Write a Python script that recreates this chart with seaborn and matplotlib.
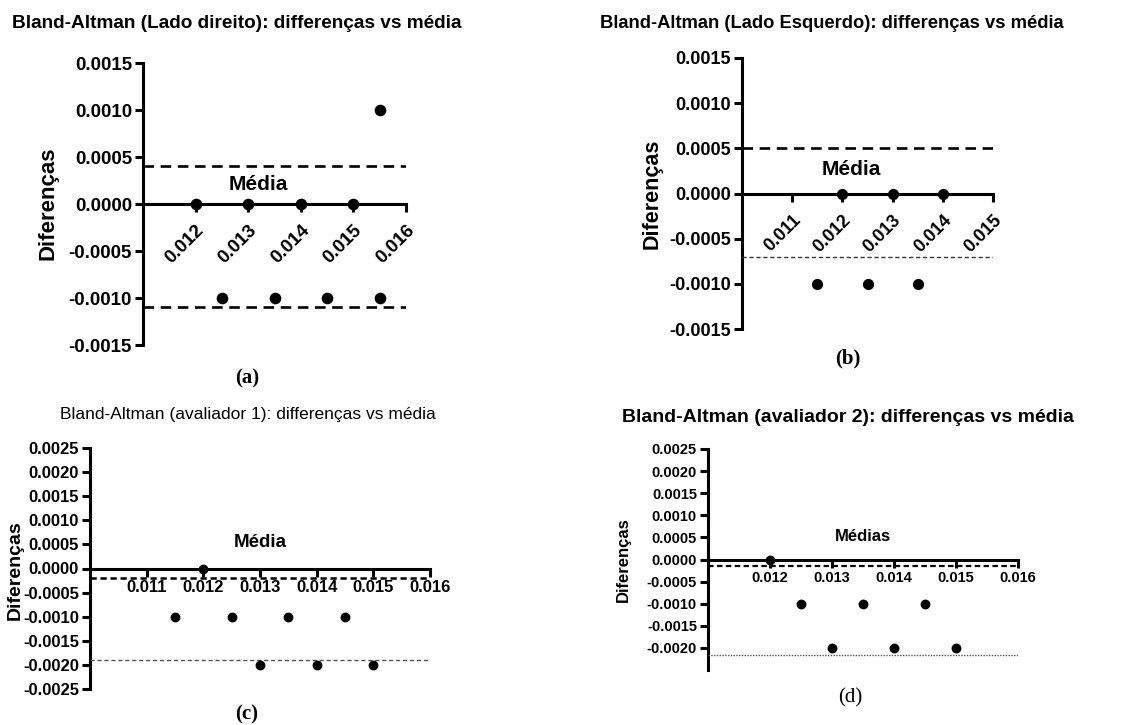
import matplotlib
matplotlib.use("Agg")
import matplotlib.pyplot as plt
import seaborn as sns
import pandas as pd

sns.set_theme(style="white")
plt.rcParams['font.family'] = ['Liberation Sans', 'DejaVu Sans']
plt.rcParams['text.color'] = 'black'
plt.rcParams['axes.labelcolor'] = 'black'
plt.rcParams['xtick.color'] = 'black'
plt.rcParams['ytick.color'] = 'black'

# ---------------- data ----------------
# (a) Lado direito
a_mean = [0.012, 0.013, 0.014, 0.015, 0.0125, 0.0135, 0.0145, 0.0155, 0.0155]
a_diff = [0.0, 0.0, 0.0, 0.0, -0.001, -0.001, -0.001, -0.001, 0.001]
a_loa = [0.0004, -0.0011]
a_xticks = [0.012, 0.013, 0.014, 0.015, 0.016]
a_yticks = [0.0015, 0.0010, 0.0005, 0.0, -0.0005, -0.0010, -0.0015]

# (b) Lado Esquerdo
b_mean = [0.012, 0.013, 0.014, 0.0115, 0.0125, 0.0135]
b_diff = [0.0, 0.0, 0.0, -0.001, -0.001, -0.001]
b_loa = [0.0005, -0.0007]
b_xticks = [0.011, 0.012, 0.013, 0.014, 0.015]
b_yticks = [0.0015, 0.0010, 0.0005, 0.0, -0.0005, -0.0010, -0.0015]

# (c) avaliador 1
c_mean = [0.012, 0.0115, 0.0125, 0.0135, 0.0145, 0.013, 0.014, 0.015]
c_diff = [0.0, -0.001, -0.001, -0.001, -0.001, -0.002, -0.002, -0.002]
c_loa = [-0.0002, -0.0019]
c_xticks = [0.011, 0.012, 0.013, 0.014, 0.015, 0.016]
c_yticks = [0.0025, 0.0020, 0.0015, 0.0010, 0.0005, 0.0, -0.0005, -0.0010,
            -0.0015, -0.0020, -0.0025]

# (d) avaliador 2
d_mean = [0.012, 0.0125, 0.0135, 0.0145, 0.013, 0.014, 0.015]
d_diff = [0.0, -0.001, -0.001, -0.001, -0.002, -0.002, -0.002]
d_loa = [-0.00015, -0.00215]
d_xticks = [0.012, 0.013, 0.014, 0.015, 0.016]
d_yticks = [0.0025, 0.0020, 0.0015, 0.0010, 0.0005, 0.0, -0.0005, -0.0010,
            -0.0015, -0.0020]

W, H = 1123, 725
fig = plt.figure(figsize=(W / 100, H / 100), dpi=100)


def px_axes(left, right, top, bottom):
    return fig.add_axes([left / W, 1 - bottom / H, (right - left) / W, (bottom - top) / H])


def style_axes(ax, xlim, ylim, xticks, yticks, tick_fs, rot, spine_lw, xpad=2):
    ax.set_xlim(*xlim)
    ax.set_ylim(*ylim)
    for s in ['top', 'right']:
        ax.spines[s].set_visible(False)
    ax.spines['bottom'].set_position(('data', 0))
    for s in ['left', 'bottom']:
        ax.spines[s].set_color('black')
        ax.spines[s].set_linewidth(spine_lw)
    ax.set_xticks(xticks)
    ax.set_yticks(yticks)
    ax.set_yticklabels([f"{v:.4f}" for v in yticks], fontsize=tick_fs, fontweight='bold')
    ax.tick_params(axis='both', direction='out', length=6, width=spine_lw,
                   color='black', labelcolor='black', left=True, bottom=True, pad=2)
    ax.tick_params(axis='x', pad=xpad)
    if rot:
        ax.set_xticklabels([f"{v:.3f}" for v in xticks], fontsize=tick_fs,
                           fontweight='bold', rotation=45, ha='right',
                           rotation_mode='anchor')
    else:
        ax.set_xticklabels([f"{v:.3f}" for v in xticks], fontsize=tick_fs,
                           fontweight='bold')
    ax.set_xlabel('')
    ax.set_ylabel('')
    ax.grid(False)
    ax.set_facecolor('none')


# ---------------- panel (a) ----------------
ax = px_axes(143, 406, 63, 345)
sns.scatterplot(x=a_mean, y=a_diff, ax=ax, color='black', s=70, edgecolor='black',
                linewidth=0, zorder=5, clip_on=False)
for v in a_loa:
    ax.axhline(v, color='black', lw=1.9, ls=(0, (4, 2.5)), zorder=3)
style_axes(ax, (0.011, 0.016), (-0.0015, 0.0015), a_xticks, a_yticks, 13.5, True, 2.2, xpad=7)
ax.text(0.0132, 0.00021, 'Média', fontsize=15, fontweight='bold', ha='center', va='center')
fig.text(48 / W, 1 - 203 / H, 'Diferenças', rotation=90, fontsize=16, fontweight='bold',
         ha='center', va='center')
fig.text(237 / W, 1 - 24 / H, 'Bland-Altman (Lado direito): differenças vs média',
         fontsize=13.7, fontweight='bold', ha='center', va='center')
fig.text(247 / W, 1 - 378 / H, '(a)', family='Liberation Serif', fontsize=15,
         fontweight='bold', ha='center', va='center')

# ---------------- panel (b) ----------------
ax = px_axes(742, 993, 58, 329)
sns.scatterplot(x=b_mean, y=b_diff, ax=ax, color='black', s=65, edgecolor='black',
                linewidth=0, zorder=5, clip_on=False)
ax.axhline(b_loa[0], color='black', lw=1.9, ls=(0, (4, 2.5)), zorder=3)
ax.axhline(b_loa[1], color='#333333', lw=1.0, ls=(0, (3, 2)), zorder=3)
style_axes(ax, (0.010, 0.015), (-0.0015, 0.0015), b_xticks, b_yticks, 13, True, 2.2, xpad=7)
ax.text(0.01218, 0.00027, 'Média', fontsize=15, fontweight='bold', ha='center', va='center')
fig.text(652 / W, 1 - 194 / H, 'Diferenças', rotation=90, fontsize=15.5, fontweight='bold',
         ha='center', va='center')
fig.text(832 / W, 1 - 23 / H, 'Bland-Altman (Lado Esquerdo): differenças vs média',
         fontsize=13.2, fontweight='bold', ha='center', va='center')
fig.text(848 / W, 1 - 358 / H, '(b)', family='Liberation Serif', fontsize=15,
         fontweight='bold', ha='center', va='center')

# ---------------- panel (c) ----------------
ax = px_axes(90, 430, 448, 689)
sns.scatterplot(x=c_mean, y=c_diff, ax=ax, color='black', s=50, edgecolor='black',
                linewidth=0, zorder=5, clip_on=False)
ax.axhline(c_loa[0], color='black', lw=1.8, ls=(0, (2.5, 1.5)), zorder=3)
ax.axhline(c_loa[1], color='#555555', lw=1.0, ls=(0, (3, 2)), zorder=3)
style_axes(ax, (0.010, 0.016), (-0.0025, 0.0025), c_xticks, c_yticks, 12, False, 2.2)
ax.text(0.0130, 0.00054, 'Média', fontsize=13.5, fontweight='bold', ha='center', va='center')
fig.text(15 / W, 1 - 570 / H, 'Diferenças', rotation=90, fontsize=14, fontweight='bold',
         ha='center', va='center')
fig.text(248 / W, 1 - 415 / H, 'Bland-Altman (avaliador 1): differenças vs média',
         fontsize=12.5, ha='center', va='center')
fig.text(247 / W, 1 - 714 / H, '(c)', family='Liberation Serif', fontsize=15,
         fontweight='bold', ha='center', va='center')

# ---------------- panel (d) ----------------
ax = px_axes(708, 1018, 449, 670)
sns.scatterplot(x=d_mean, y=d_diff, ax=ax, color='black', s=50, edgecolor='black',
                linewidth=0, zorder=5, clip_on=False)
ax.axhline(d_loa[0], color='black', lw=1.6, ls=(0, (2.5, 1.5)), zorder=3)
ax.axhline(d_loa[1], color='#555555', lw=1.0, ls=(0, (1, 1)), zorder=3)
style_axes(ax, (0.011, 0.016), (-0.0025, 0.0025), d_xticks, d_yticks, 10.5, False, 2.2)
ax.text(0.0135, 0.00052, 'Médias', fontsize=12, fontweight='bold', ha='center', va='center')
fig.text(623 / W, 1 - 560 / H, 'Diferenças', rotation=90, fontsize=12, fontweight='bold',
         ha='center', va='center')
fig.text(622 / W, 1 - 417 / H, 'Bland-Altman (avaliador 2): differenças vs média',
         fontsize=14, fontweight='bold', ha='left', va='center')
fig.text(850 / W, 1 - 698 / H, '(d)', family='Liberation Serif', fontsize=15,
         ha='center', va='center')

fig.savefig('out.png', dpi=100)
